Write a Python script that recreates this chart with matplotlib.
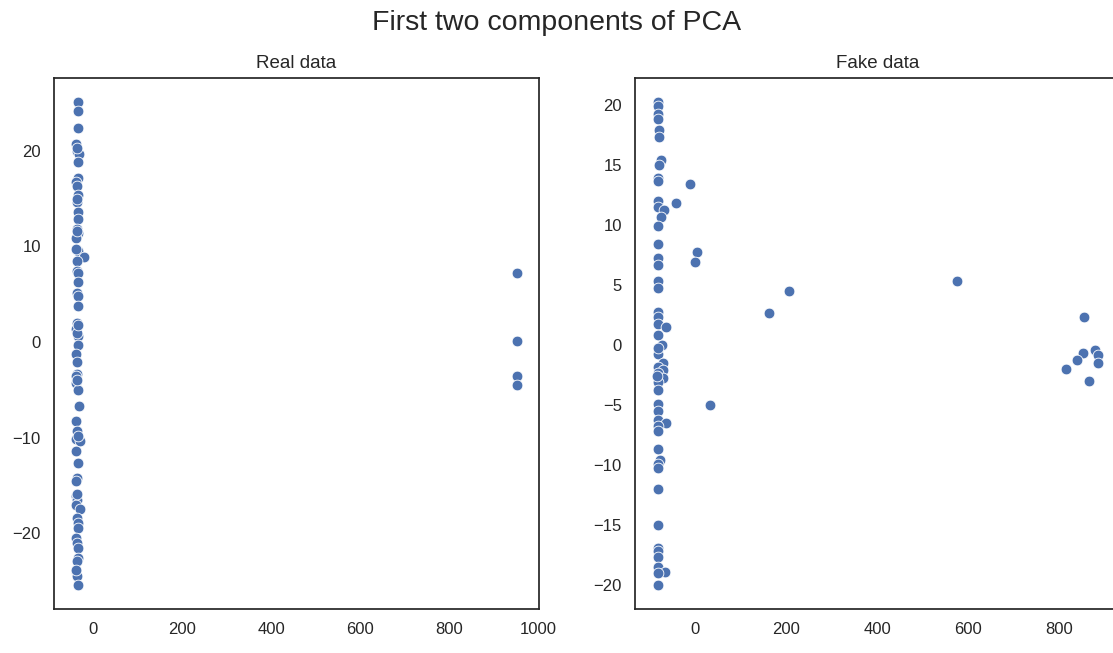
import matplotlib
matplotlib.use("Agg")
import matplotlib.pyplot as plt
import seaborn as sns

sns.set_theme(style="white")
plt.rcParams['font.family'] = ['Liberation Sans', 'DejaVu Sans']

# first two PCA components of the real samples
real_pc1 = [-34, -34, -34, -38, -36, -31, -34, -34, -37, -35, -34, -35, -34, -34,
            -36, -33, -38, -34, -20, -36, -35, -33, -34, -35, -34, -34, -35, -37,
            -34, -33, -37, -35, -36, -37, -34, -31, -37, -35, -38, -30, -37, -34,
            -36, -37, -37, -36, -38, -28, -36, -34, -34, -37, -35, -34, -34, -35,
            -37, -35, -34,
            -36, -38, -36, -36, -38, -34, -35, -38, -35, -33, -35,
            952, 952, 952, 952]
real_pc2 = [25.1, 24.2, 22.4, 20.7, 20.0, 19.7, 18.8, 17.2, 16.7, 16.3, 15.4, 14.6,
            13.6, 12.9, 11.8, 11.4, 10.9, 9.5, 8.9, 8.5, 7.4, 7.2, 6.3, 5.1, 4.8,
            3.8, 2.0, 1.4, 0.6, -0.3, -1.2, -2.1, -3.3, -4.3, -5.0, -6.7, -8.3,
            -9.3, -10.1, -10.3, -11.4, -12.7, -14.2, -14.5, -16.1, -16.5, -17.0,
            -17.5, -18.4, -18.9, -19.5, -20.5, -21.0, -21.5, -22.6, -22.9, -24.0,
            -24.5, -25.4,
            11.6, 9.7, 15.0, 0.9, -3.6, -9.8, -15.9, -23.8, -4.0, 1.8, 20.3,
            7.2, 0.1, -3.5, -4.5]

# first two PCA components of the generated samples
fake_pc1 = [-81, -81, -81, -81, -80, -80, -76, -80, -81, -81, -11, -43, -81, -81,
            -69, -76, -81, -81, 4, -1, -81, -81, -81, -81, 206, 163, -81, -81,
            -81, -64, -81, -81, -81,
            -73, -81, -70, -81, -70, -81, -70, -81, -81, -81, 32, -81, -81, -65,
            -81, -81, -81, -78, -81, -81, -81, -81, -81, -81, -81, -81, -66, -81,
            -81, -84,
            576, 855, 880, 886, 853, 840, 886, 815, 866]
fake_pc2 = [20.2, 19.9, 19.2, 18.8, 17.9, 17.3, 15.4, 15.0, 13.9, 13.6, 13.4, 11.8,
            12.0, 11.5, 11.25, 10.6, 9.9, 8.4, 7.7, 6.9, 7.2, 6.6, 5.3, 4.7, 4.5,
            2.6, 2.7, 2.3, 1.7, 1.5, 0.8, -0.3, -0.8,
            -0.05, -0.3, -1.5, -1.9, -2.1, -2.4, -2.8, -3.1, -3.75, -4.9, -5.0,
            -5.55, -6.25, -6.5, -6.8, -7.2, -8.7, -9.6, -9.9, -10.3, -12.05,
            -15.0, -16.9, -17.2, -17.7, -18.55, -18.9, -19.0, -20.0, -2.6,
            5.3, 2.3, -0.45, -0.9, -0.7, -1.3, -1.5, -2.0, -3.05]

fig = plt.figure(figsize=(11.13, 6.53), dpi=100)
ax1 = fig.add_axes([0.0485, 0.0674, 0.4358, 0.8132])
ax2 = fig.add_axes([0.5705, 0.0674, 0.4358, 0.8132])

for ax, x, y, title in [(ax1, real_pc1, real_pc2, 'Real data'),
                        (ax2, fake_pc1, fake_pc2, 'Fake data')]:
    sns.scatterplot(x=x, y=y, ax=ax, s=60, color='#4C72B0',
                    edgecolor='white', linewidth=0.6)
    ax.set_title(title, fontsize=13.5, pad=7)
    ax.tick_params(labelsize=12)
    for sp in ax.spines.values():
        sp.set_color('#262626')
        sp.set_linewidth(1.25)

ax1.set_xticks([0, 200, 400, 600, 800, 1000])
ax1.set_yticks([-20, -10, 0, 10, 20])
ax2.set_xticks([0, 200, 400, 600, 800])
ax2.set_yticks([-20, -15, -10, -5, 0, 5, 10, 15, 20])

fig.suptitle('First two components of PCA', fontsize=20.5, y=0.985)

fig.savefig('out.png', dpi=100)
